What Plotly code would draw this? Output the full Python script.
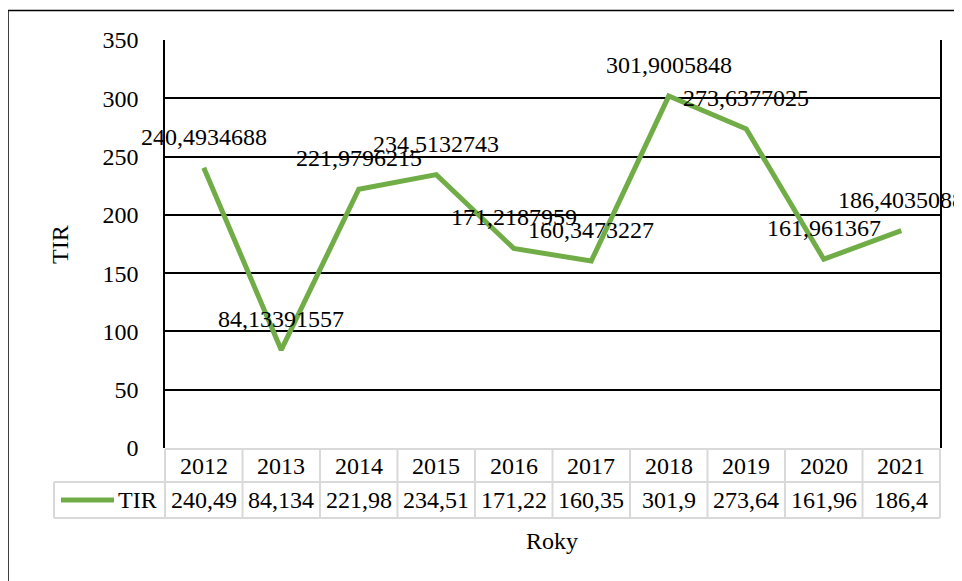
import plotly.graph_objects as go

years = [2012, 2013, 2014, 2015, 2016, 2017, 2018, 2019, 2020, 2021]
tir = [240.4934688, 84.13391557, 221.9796215, 234.5132743, 171.2187959,
       160.3473227, 301.9005848, 273.6377025, 161.961367, 186.4035088]
series_name = "TIR"
y_ticks = [0, 50, 100, 150, 200, 250, 300, 350]

# the page body has an 8px default margin; work in window pixels and offset
OFF = 8
W, H = 962 - OFF, 581 - OFF
L, R, T, B = 165 - OFF, 22, 40 - OFF, 133
PW, PH = W - L - R, H - T - B
GREEN = "#70AD47"
GRAY = "#D9D9D9"
FONT = "Liberation Serif"
FS = 24


def px(x):
    return (x - OFF - L) / PW


def py(y):
    return (T + PH - (y - OFF)) / PH


fig = go.Figure()
fig.add_trace(go.Scatter(
    x=years, y=tir, mode="lines", name=series_name,
    line=dict(color=GREEN, width=5), showlegend=False, hoverinfo="x+y"))

txtfont = dict(family=FONT, size=FS, color="black")
annotations = []
# data labels above points
for yr, v in zip(years, tir):
    annotations.append(dict(x=yr, y=v, xref="x", yref="y", text=str(v).replace(".", ","),
                            showarrow=False, yshift=31, xanchor="center", yanchor="middle",
                            font=txtfont))

# data table
n = len(years)
row0_top, row1_top, row2_bot = 449, 482, 518
shapes = []
shapes.append(dict(type="line", xref="paper", yref="paper", x0=0, x1=1,
                   y0=py(row0_top), y1=py(row0_top), line=dict(color=GRAY, width=2)))
for yy in (row1_top, row2_bot):
    shapes.append(dict(type="line", xref="paper", yref="paper", x0=px(54), x1=1,
                       y0=py(yy), y1=py(yy), line=dict(color=GRAY, width=2)))
for i in range(n + 1):
    shapes.append(dict(type="line", xref="paper", yref="paper", x0=i / n, x1=i / n,
                       y0=py(row0_top), y1=py(row2_bot), line=dict(color=GRAY, width=2)))
shapes.append(dict(type="line", xref="paper", yref="paper", x0=px(54), x1=px(54),
                   y0=py(row1_top), y1=py(row2_bot), line=dict(color=GRAY, width=2)))
# legend key
shapes.append(dict(type="line", xref="paper", yref="paper", x0=px(61), x1=px(114),
                   y0=py(500), y1=py(500), line=dict(color=GREEN, width=5)))
# outer chart border
shapes.append(dict(type="rect", xref="paper", yref="paper", x0=px(8), x1=px(975),
                   y0=py(600), y1=py(10.5), line=dict(color="black", width=1.5),
                   layer="above"))

for yr, v in zip(years, tir):
    annotations.append(dict(x=yr, y=py((row0_top + row1_top) / 2), xref="x", yref="paper",
                            text=str(yr), showarrow=False, xanchor="center", yanchor="middle",
                            font=txtfont))
    annotations.append(dict(x=yr, y=py((row1_top + row2_bot) / 2), xref="x", yref="paper",
                            text=f"{v:.5g}".replace(".", ","), showarrow=False,
                            xanchor="center", yanchor="middle", font=txtfont))

annotations.append(dict(x=px(137), y=py(500), xref="paper", yref="paper", text=series_name,
                        showarrow=False, xanchor="center", yanchor="middle", font=txtfont))
annotations.append(dict(x=px(552), y=py(541), xref="paper", yref="paper", text="Roky",
                        showarrow=False, xanchor="center", yanchor="middle", font=txtfont))
annotations.append(dict(x=px(60), y=py(244), xref="paper", yref="paper", text="TIR",
                        textangle=-90, showarrow=False, xanchor="center", yanchor="middle",
                        font=txtfont))

fig.update_layout(
    width=W, height=H,
    margin=dict(l=L, r=R, t=T, b=B, pad=0),
    paper_bgcolor="white", plot_bgcolor="white",
    font=txtfont,
    xaxis=dict(range=[years[0] - 0.5, years[-1] + 0.5], visible=False, fixedrange=True),
    yaxis=dict(range=[0, 350], tickvals=y_ticks, ticktext=[str(t) for t in y_ticks],
               showgrid=True, gridcolor="black", gridwidth=1.5,
               showline=True, mirror=True, linecolor="black", linewidth=1.5,
               zeroline=False, ticks="", ticklabelstandoff=20, automargin=False,
               tickfont=txtfont),
    shapes=shapes, annotations=annotations,
)

fig.write_html("out.html")
